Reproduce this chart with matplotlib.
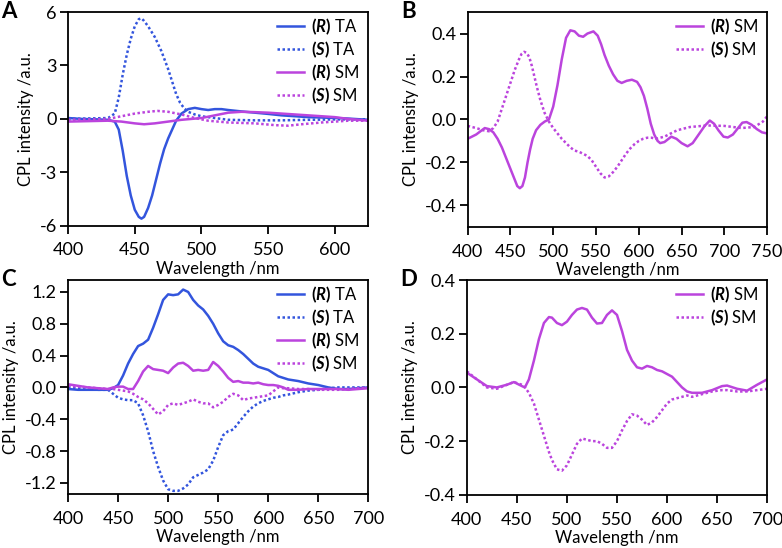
import matplotlib
matplotlib.use("Agg")
import matplotlib.pyplot as plt

plt.rcParams['font.family'] = ['Lato', 'DejaVu Sans']
plt.rcParams['mathtext.fontset'] = 'custom'
plt.rcParams['mathtext.rm'] = 'Lato'
plt.rcParams['mathtext.bf'] = 'Lato:bold'
plt.rcParams['mathtext.bfit'] = 'Lato:bold:italic'
plt.rcParams['mathtext.it'] = 'Lato:italic'
plt.rcParams['axes.unicode_minus'] = False

BLUE = '#3355dd'
MAG = '#bb44dd'

# ---- panel A: TA and SM, 400-625 nm ----
a_r_ta_x = [400, 410, 420, 430, 435, 438, 441, 444, 447, 450, 453, 455, 457, 460, 463, 466, 469, 472,
            475, 478, 481, 485, 490, 495, 500, 505, 510, 515, 520, 530, 540, 550, 560, 570, 580, 590,
            600, 610, 625]
a_r_ta_y = [0.05, 0, -0.02, -0.05, -0.15, -0.6, -1.8, -3.2, -4.3, -5.1, -5.5, -5.6, -5.5, -5.0, -4.3,
            -3.4, -2.5, -1.7, -1.1, -0.6, -0.1, 0.3, 0.55, 0.62, 0.55, 0.5, 0.55, 0.55, 0.5, 0.42, 0.35,
            0.28, 0.2, 0.15, 0.1, 0.08, 0.05, 0.02, -0.05]
a_s_ta_x = [400, 430, 435, 438, 441, 444, 447, 450, 453, 455, 457, 460, 465, 470, 475, 478, 481, 484,
            487, 490, 495, 500, 510, 520, 540, 560, 580, 600, 625]
a_s_ta_y = [0, 0.05, 0.3, 1.2, 2.5, 3.6, 4.5, 5.2, 5.6, 5.65, 5.5, 5.2, 4.6, 3.8, 2.8, 2.1, 1.4, 0.9,
            0.6, 0.4, 0.25, 0.15, 0.05, -0.05, -0.08, -0.08, -0.05, -0.03, -0.02]
a_r_sm_x = [400, 430, 440, 450, 457, 465, 475, 485, 500, 510, 520, 530, 540, 550, 560, 570, 580, 590,
            600, 610, 625]
a_r_sm_y = [-0.15, -0.1, -0.15, -0.25, -0.3, -0.25, -0.15, -0.05, 0.05, 0.2, 0.35, 0.4, 0.38, 0.35,
            0.3, 0.25, 0.2, 0.15, 0.1, 0.0, -0.1]
a_s_sm_x = [400, 430, 440, 450, 460, 467, 475, 485, 495, 505, 520, 540, 555, 565, 575, 590, 600, 610, 625]
a_s_sm_y = [-0.05, 0, 0.15, 0.3, 0.4, 0.45, 0.4, 0.25, 0.05, -0.1, -0.2, -0.25, -0.35, -0.38, -0.3,
            -0.2, -0.15, -0.1, -0.1]

# ---- panel B: SM, 400-750 nm ----
b_r_x = [400, 410, 420, 425, 430, 435, 440, 445, 450, 455, 458, 461, 464, 467, 470, 473, 476, 480, 485,
         490, 495, 500, 505, 510, 515, 520, 525, 530, 535, 540, 547, 552, 556, 560, 565, 570, 575, 580,
         586, 592, 598, 602, 606, 610, 614, 618, 622, 625, 630, 638, 644, 650, 657, 663, 670, 677, 683,
         688, 693, 699, 704, 710, 716, 721, 726, 732, 738, 744, 750]
b_r_y = [-0.09, -0.07, -0.04, -0.045, -0.06, -0.09, -0.13, -0.18, -0.23, -0.28, -0.31, -0.32, -0.31,
         -0.27, -0.2, -0.14, -0.09, -0.05, -0.025, -0.01, 0.0, 0.06, 0.16, 0.28, 0.38, 0.415, 0.41, 0.39,
         0.385, 0.4, 0.41, 0.39, 0.35, 0.3, 0.25, 0.21, 0.18, 0.17, 0.18, 0.185, 0.175, 0.15, 0.11, 0.05,
         -0.02, -0.07, -0.1, -0.11, -0.105, -0.08, -0.09, -0.11, -0.125, -0.11, -0.07, -0.03, -0.005,
         -0.02, -0.05, -0.08, -0.084, -0.07, -0.04, -0.015, -0.012, -0.025, -0.045, -0.06, -0.065]
b_s_x = [400, 410, 418, 425, 430, 435, 440, 445, 450, 455, 460, 463, 466, 469, 472, 475, 478, 481, 485,
         490, 495, 500, 505, 510, 515, 520, 525, 530, 535, 540, 545, 550, 555, 560, 565, 570, 575, 580,
         585, 590, 595, 600, 605, 610, 615, 620, 630, 645, 660, 680, 700, 720, 735, 745, 750]
b_s_y = [-0.03, -0.04, -0.05, -0.055, -0.04, -0.01, 0.05, 0.11, 0.17, 0.23, 0.28, 0.305, 0.315, 0.31,
         0.29, 0.25, 0.2, 0.15, 0.09, 0.03, -0.01, -0.04, -0.065, -0.09, -0.11, -0.13, -0.145, -0.15,
         -0.16, -0.17, -0.19, -0.22, -0.25, -0.27, -0.265, -0.245, -0.22, -0.19, -0.16, -0.135, -0.115,
         -0.1, -0.09, -0.085, -0.085, -0.09, -0.08, -0.05, -0.035, -0.028, -0.03, -0.04, -0.035, -0.01,
         0.015]

# ---- panel C: TA and SM, 400-700 nm ----
c_x = [400, 410, 420, 430, 440, 445, 450, 455, 460, 465, 470, 475, 480, 485, 490, 495, 500, 505, 510,
       515, 520, 525, 530, 535, 540, 545, 550, 555, 560, 565, 570, 575, 580, 585, 590, 595, 600, 605,
       610, 615, 620, 630, 640, 650, 660, 670, 680, 690, 700]
c_r_ta = [-0.02, -0.03, -0.03, -0.03, -0.03, -0.01, 0.03, 0.15, 0.3, 0.42, 0.52, 0.55, 0.6, 0.75, 0.92,
          1.1, 1.17, 1.16, 1.17, 1.23, 1.2, 1.1, 1.03, 0.98, 0.9, 0.8, 0.68, 0.58, 0.53, 0.51, 0.47, 0.42,
          0.36, 0.3, 0.26, 0.24, 0.22, 0.18, 0.14, 0.12, 0.1, 0.08, 0.05, 0.03, 0.0, -0.02, -0.02, -0.01,
          0.0]
c_s_ta = [0.0, -0.01, -0.02, -0.03, -0.03, -0.08, -0.13, -0.15, -0.16, -0.16, -0.2, -0.35, -0.55, -0.8,
          -1.0, -1.17, -1.28, -1.3, -1.3, -1.27, -1.22, -1.13, -1.1, -1.07, -1.03, -0.92, -0.75, -0.6,
          -0.55, -0.53, -0.45, -0.37, -0.3, -0.24, -0.2, -0.17, -0.15, -0.13, -0.12, -0.1, -0.09, -0.06,
          -0.04, -0.03, -0.01, 0.0, 0.0, 0.0, 0.0]
c_r_sm = [0.04, 0.02, 0.0, -0.01, -0.02, 0.0, 0.01, 0.01, -0.02, -0.02, 0.08, 0.2, 0.27, 0.23, 0.22,
          0.21, 0.18, 0.25, 0.3, 0.31, 0.27, 0.21, 0.22, 0.21, 0.22, 0.32, 0.27, 0.2, 0.12, 0.07, 0.08,
          0.06, 0.06, 0.05, 0.06, 0.04, 0.03, 0.03, 0.02, 0.0, -0.03, -0.03, -0.02, -0.02, -0.02, -0.02,
          -0.03, -0.02, -0.01]
c_s_sm = [0.02, 0.01, 0.0, -0.01, -0.02, -0.02, -0.03, -0.04, -0.05, -0.08, -0.12, -0.15, -0.2, -0.27,
          -0.34, -0.3, -0.22, -0.2, -0.22, -0.2, -0.18, -0.15, -0.18, -0.2, -0.2, -0.25, -0.22, -0.18,
          -0.12, -0.08, -0.1, -0.16, -0.14, -0.13, -0.12, -0.11, -0.1, -0.05, 0.0, -0.01, -0.01, -0.02,
          -0.02, -0.03, -0.03, -0.03, -0.02, -0.01, 0.0]

# ---- panel D: SM, 400-700 nm ----
d_x = [400, 410, 420, 430, 440, 447, 455, 458, 462, 467, 472, 477, 482, 485, 490, 495, 500, 505, 510,
       515, 520, 525, 530, 535, 540, 545, 550, 555, 560, 565, 570, 575, 580, 585, 590, 595, 600, 605,
       610, 615, 620, 625, 635, 645, 655, 660, 670, 680, 690, 700]
d_r = [0.055, 0.03, 0.005, 0.0, 0.01, 0.02, 0.005, 0.0, 0.03, 0.1, 0.18, 0.24, 0.262, 0.26, 0.24, 0.232,
       0.245, 0.27, 0.29, 0.296, 0.29, 0.26, 0.238, 0.24, 0.27, 0.287, 0.27, 0.21, 0.14, 0.1, 0.075, 0.07,
       0.08, 0.075, 0.065, 0.06, 0.05, 0.04, 0.02, 0.0, -0.015, -0.02, -0.02, -0.01, 0.005, 0.007, -0.005,
       -0.012, 0.01, 0.03]
d_s = [0.06, 0.03, 0.0, -0.005, 0.01, 0.02, 0.01, 0.0, -0.02, -0.06, -0.12, -0.18, -0.24, -0.27, -0.305,
       -0.31, -0.29, -0.25, -0.21, -0.19, -0.195, -0.2, -0.2, -0.21, -0.225, -0.225, -0.2, -0.16, -0.125,
       -0.1, -0.105, -0.12, -0.14, -0.13, -0.11, -0.085, -0.06, -0.045, -0.04, -0.035, -0.03, -0.035,
       -0.025, -0.015, -0.01, -0.01, -0.015, -0.015, -0.01, -0.005]

LBL_RTA = r"$\mathbf{(}\mathbfit{R}\mathbf{)}$ TA"
LBL_STA = r"$\mathbf{(}\mathbfit{S}\mathbf{)}$ TA"
LBL_RSM = r"$\mathbf{(}\mathbfit{R}\mathbf{)}$ SM"
LBL_SSM = r"$\mathbf{(}\mathbfit{S}\mathbf{)}$ SM"
DOT = (0, (1, 1))
LW = 1.8

fig = plt.figure(figsize=(7.82, 5.48), dpi=100)
axA = fig.add_axes([0.087, 0.588, 0.384, 0.390])
axB = fig.add_axes([0.598, 0.586, 0.383, 0.392])
axC = fig.add_axes([0.087, 0.0985, 0.384, 0.3905])
axD = fig.add_axes([0.597, 0.097, 0.384, 0.392])

axA.plot(a_r_ta_x, a_r_ta_y, color=BLUE, lw=LW, label=LBL_RTA)
axA.plot(a_s_ta_x, a_s_ta_y, color=BLUE, lw=LW, ls=DOT, label=LBL_STA)
axA.plot(a_r_sm_x, a_r_sm_y, color=MAG, lw=LW, label=LBL_RSM)
axA.plot(a_s_sm_x, a_s_sm_y, color=MAG, lw=LW, ls=DOT, label=LBL_SSM)
axA.set_xlim(400, 625)
axA.set_ylim(-6, 6)
axA.set_xticks([400, 450, 500, 550, 600])
axA.set_yticks([-6, -3, 0, 3, 6])

axB.plot(b_r_x, b_r_y, color=MAG, lw=LW, label=LBL_RSM)
axB.plot(b_s_x, b_s_y, color=MAG, lw=LW, ls=DOT, label=LBL_SSM)
axB.set_xlim(400, 750)
axB.set_ylim(-0.5, 0.5)
axB.set_xticks(range(400, 751, 50))
axB.set_yticks([-0.4, -0.2, 0.0, 0.2, 0.4])
axB.set_yticklabels(['-0.4', '-0.2', '0.0', '0.2', '0.4'])

axC.plot(c_x, c_r_ta, color=BLUE, lw=LW, label=LBL_RTA)
axC.plot(c_x, c_s_ta, color=BLUE, lw=LW, ls=DOT, label=LBL_STA)
axC.plot(c_x, c_r_sm, color=MAG, lw=LW, label=LBL_RSM)
axC.plot(c_x, c_s_sm, color=MAG, lw=LW, ls=DOT, label=LBL_SSM)
axC.set_xlim(400, 700)
axC.set_ylim(-1.34, 1.35)
axC.set_xticks(range(400, 701, 50))
axC.set_yticks([-1.2, -0.8, -0.4, 0.0, 0.4, 0.8, 1.2])
axC.set_yticklabels(['-1.2', '-0.8', '-0.4', '0.0', '0.4', '0.8', '1.2'])

axD.plot(d_x, d_r, color=MAG, lw=LW, label=LBL_RSM)
axD.plot(d_x, d_s, color=MAG, lw=LW, ls=DOT, label=LBL_SSM)
axD.set_xlim(400, 700)
axD.set_ylim(-0.4, 0.4)
axD.set_xticks(range(400, 701, 50))
axD.set_yticks([-0.4, -0.2, 0.0, 0.2, 0.4])
axD.set_yticklabels(['-0.4', '-0.2', '0.0', '0.2', '0.4'])

for ax, letter in [(axA, 'A'), (axB, 'B'), (axC, 'C'), (axD, 'D')]:
    for sp in ax.spines.values():
        sp.set_linewidth(1.3)
    ax.tick_params(direction='out', length=6, width=1.3, labelsize=13)
    ax.tick_params(axis='x', pad=6)
    ax.tick_params(axis='y', pad=2)
    ax.set_xlabel('Wavelength /nm', fontsize=12, labelpad=2)
    ax.set_ylabel('CPL intensity /a.u.', fontsize=12, labelpad=4)
    ax.legend(loc='upper right', bbox_to_anchor=(0.98, 0.995), frameon=False, fontsize=12,
              handlelength=1.6, labelspacing=0.15, borderaxespad=0.05, borderpad=0.15,
              handletextpad=0.4)
    pos = ax.get_position()
    fig.text(pos.x0 - 0.085, pos.y1 + 0.02, letter, fontsize=16, fontweight='bold',
             va='top', ha='left')

fig.savefig('out.png', dpi=100)
